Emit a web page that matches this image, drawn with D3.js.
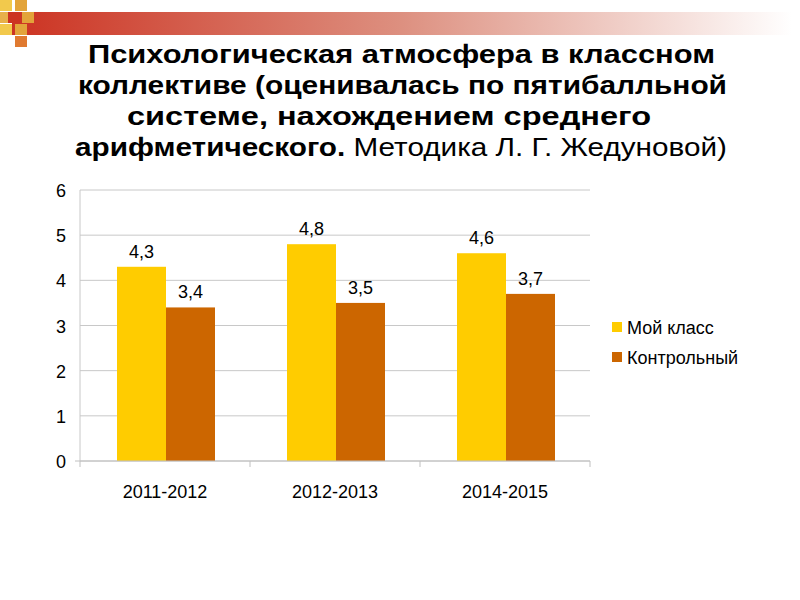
<!DOCTYPE html><html><head><meta charset="utf-8"><script src="https://d3js.org/d3.v7.min.js"></script>
<style>body{margin:0;background:#fff}</style></head><body><svg id="c" width="800" height="600"></svg>
<script>
const categories=["2011-2012","2012-2013","2014-2015"];
const seriesNames=["Мой класс","Контрольный"];
const myClass=[4.3,4.8,4.6];
const control=[3.4,3.5,3.7];
const yTicks=[0,1,2,3,4,5,6];
const colors=["#FFCC00","#CC6600"];
const svg=d3.select("#c");
const defs=svg.append("defs");
const g=defs.append("linearGradient").attr("id","gr");
g.append("stop").attr("offset","0").attr("stop-color","#cc3322");
g.append("stop").attr("offset","0.5").attr("stop-color","#dd9080");
g.append("stop").attr("offset","1").attr("stop-color","#fff");
svg.append("rect").attr("x",12).attr("y",12).attr("width",780).attr("height",23).attr("fill","url(#gr)");
[[0,0,"#f2c94c"],[15,0,"#e3a43a"],[0,12,"#e8b04a"],[8,12,"#cc3322"],[22,12,"#e3a43a"],[0,24,"#f2c94c"],[15,24,"#e3a43a"],[15,36,"#e07a30"]].forEach(d=>svg.append("rect").attr("x",d[0]).attr("y",d[1]).attr("width",12).attr("height",11).attr("fill",d[2]));
const tl=[["Психологическая атмосфера в классном",88,627],["коллективе (оценивалась по пятибалльной",78,649],["системе, нахождением среднего",127,524]];
tl.forEach((t,i)=>svg.append("text").attr("x",t[1]).attr("y",63+i*31).attr("textLength",t[2]).attr("lengthAdjust","spacingAndGlyphs").attr("font-family","Liberation Sans, Arial").attr("font-weight","bold").attr("font-size",25).text(t[0]));
const t4=svg.append("text").attr("x",75).attr("y",156).attr("textLength",652).attr("lengthAdjust","spacingAndGlyphs").attr("font-family","Liberation Sans, Arial").attr("font-size",25);
t4.append("tspan").attr("font-weight","bold").text("арифметического. ");
t4.append("tspan").text("Методика Л. Г. Жедуновой)");
const x=d3.scaleBand().domain(categories).range([80,590]);
const xi=d3.scaleBand().domain(seriesNames).range([37,135]);
const y=d3.scaleLinear().domain([0,6]).range([461,190]);
svg.append("g").selectAll("line").data(yTicks).join("line").attr("x1",80).attr("x2",590).attr("y1",d=>y(d)).attr("y2",d=>y(d)).attr("stroke","#c8c8c8");
svg.append("line").attr("x1",80).attr("x2",80).attr("y1",190).attr("y2",461).attr("stroke","#c8c8c8");
svg.append("g").selectAll("text").data(yTicks).join("text").attr("x",66).attr("y",d=>y(d)+7).attr("text-anchor","end").attr("font-family","Liberation Sans, Arial").attr("font-size",18).text(d=>d);
const data=[myClass,control];
data.forEach((arr,s)=>{
 svg.append("g").selectAll("rect").data(arr).join("rect").attr("x",(d,i)=>x(categories[i])+xi(seriesNames[s])).attr("width",xi.bandwidth()).attr("y",d=>y(d)).attr("height",d=>461-y(d)).attr("fill",colors[s]);
 svg.append("g").selectAll("text").data(arr).join("text").attr("x",(d,i)=>x(categories[i])+xi(seriesNames[s])+xi.bandwidth()/2).attr("y",d=>y(d)-9).attr("text-anchor","middle").attr("font-family","Liberation Sans, Arial").attr("font-size",18).text(d=>String(d).replace(".",","));
});
svg.append("line").attr("x1",75).attr("x2",590).attr("y1",461).attr("y2",461).attr("stroke","#c0c0c0");
svg.append("g").selectAll("line").data([0,1,2,3]).join("line").attr("x1",d=>80+d*x.step()).attr("x2",d=>80+d*x.step()).attr("y1",461).attr("y2",467).attr("stroke","#c0c0c0");
svg.append("g").selectAll("text").data(categories).join("text").attr("x",d=>x(d)+x.bandwidth()/2).attr("y",498).attr("text-anchor","middle").attr("font-family","Liberation Sans, Arial").attr("font-size",18).text(d=>d);
seriesNames.forEach((n,i)=>{svg.append("rect").attr("x",612).attr("y",322+i*30).attr("width",10).attr("height",10).attr("fill",colors[i]);
svg.append("text").attr("x",627).attr("y",334+i*30).attr("font-family","Liberation Sans, Arial").attr("font-size",18).text(n);});
</script></body></html>
